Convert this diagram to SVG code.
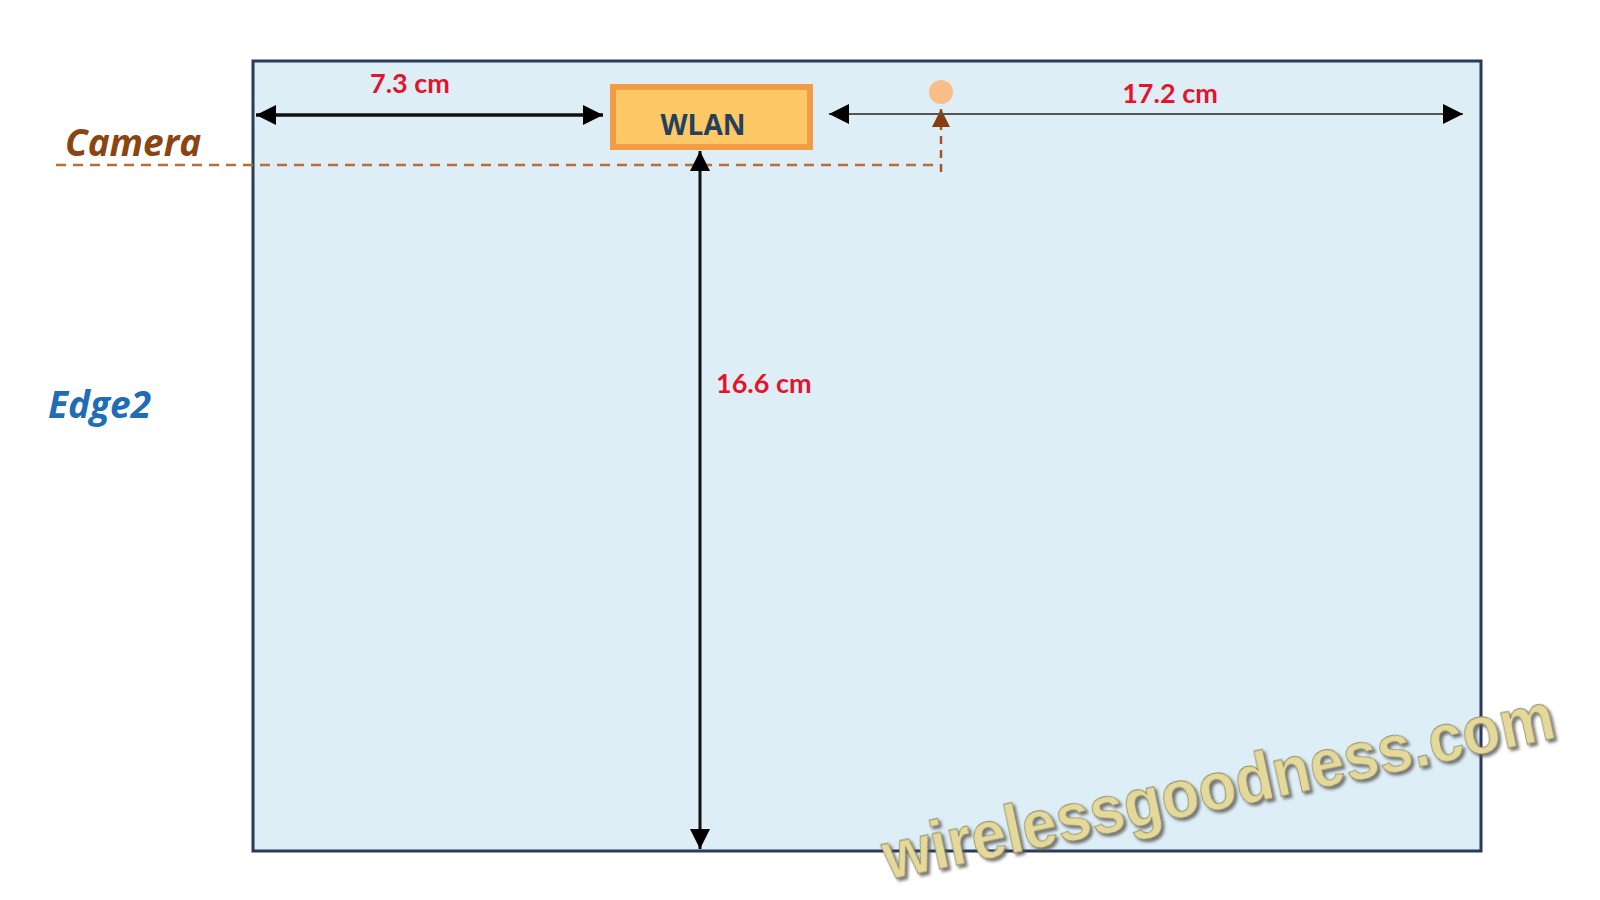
<svg xmlns="http://www.w3.org/2000/svg" width="1600" height="900" viewBox="0 0 1600 900">
<defs>
<style>
.lbl{font-family:Lato,"Open Sans",sans-serif;font-weight:bold;fill:#e3142b;font-size:27px}
.side{font-family:"Open Sans",Lato,sans-serif;font-weight:bold;font-style:italic;font-size:37px}
.dim{stroke:#111;stroke-width:3;fill:none}
</style>
<marker id="ah" viewBox="0 0 10 10" refX="10" refY="5" markerWidth="20" markerHeight="20" markerUnits="userSpaceOnUse" orient="auto-start-reverse">
<path d="M0,0 L10,5 L0,10 z" fill="#000"/>
</marker>
<marker id="ahb" viewBox="0 0 10 10" refX="10" refY="5" markerWidth="18" markerHeight="18" orient="auto" markerUnits="userSpaceOnUse">
<path d="M0,0 L10,5 L0,10 z" fill="#8a3d0c"/>
</marker>
<filter id="sh" x="-10%" y="-30%" width="120%" height="160%">
<feDropShadow dx="2" dy="3" stdDeviation="1.5" flood-color="#555" flood-opacity="0.8"/>
</filter>
</defs>
<rect width="1600" height="900" fill="#fff"/>
<g id="room">
<rect x="253" y="61" width="1228" height="790" fill="#deeef6" stroke="#2a3a5a" stroke-width="3"/>
</g>
<g id="camera">
<text class="side" x="65" y="156" fill="#8b4513">Camera</text>
</g>
<g id="edge2">
<text class="side" x="48" y="418" fill="#1f6eb5">Edge2</text>
</g>
<g id="wlan">
<rect x="613" y="87" width="197" height="60" fill="#fdc865" stroke="#f39c45" stroke-width="6"/>
<text x="703" y="135" text-anchor="middle" font-family="'Open Sans',Lato,sans-serif" font-weight="bold" font-size="28" fill="#25405e">WLAN</text>
</g>
<g id="camera-dot">
<circle cx="941" cy="92" r="12" fill="#f8bd88"/>
</g>
<g id="connectors">
<line x1="56" y1="165" x2="941" y2="165" stroke="#b86f35" stroke-width="2.5" stroke-dasharray="10,7"/>
<line x1="941" y1="172" x2="941" y2="109" stroke="#a0562a" stroke-width="2.5" stroke-dasharray="8,6" marker-end="url(#ahb)"/>
<line x1="256" y1="115" x2="603" y2="115" class="dim" style="stroke-width:3.5" marker-start="url(#ah)" marker-end="url(#ah)"/>
<line x1="829" y1="114" x2="1463" y2="114" stroke="#555" stroke-width="2" marker-start="url(#ah)" marker-end="url(#ah)"/>
<line x1="700" y1="151" x2="700" y2="849" class="dim" marker-start="url(#ah)" marker-end="url(#ah)"/>
</g>
<g id="labels">
<text class="lbl" x="410" y="93" text-anchor="middle">7.3 cm</text>
<text class="lbl" x="1170" y="103" text-anchor="middle">17.2 cm</text>
<text class="lbl" x="716" y="393">16.6 cm</text>
</g>
<g id="watermark">
<text x="0" y="0" transform="translate(888,880) rotate(-12)" font-family="'Liberation Sans',Arial,sans-serif" font-weight="bold" font-size="68" textLength="685" lengthAdjust="spacingAndGlyphs" fill="#e4d99a" stroke="#8a8660" stroke-width="0.8" filter="url(#sh)">wirelessgoodness.com</text>
</g>
</svg>
